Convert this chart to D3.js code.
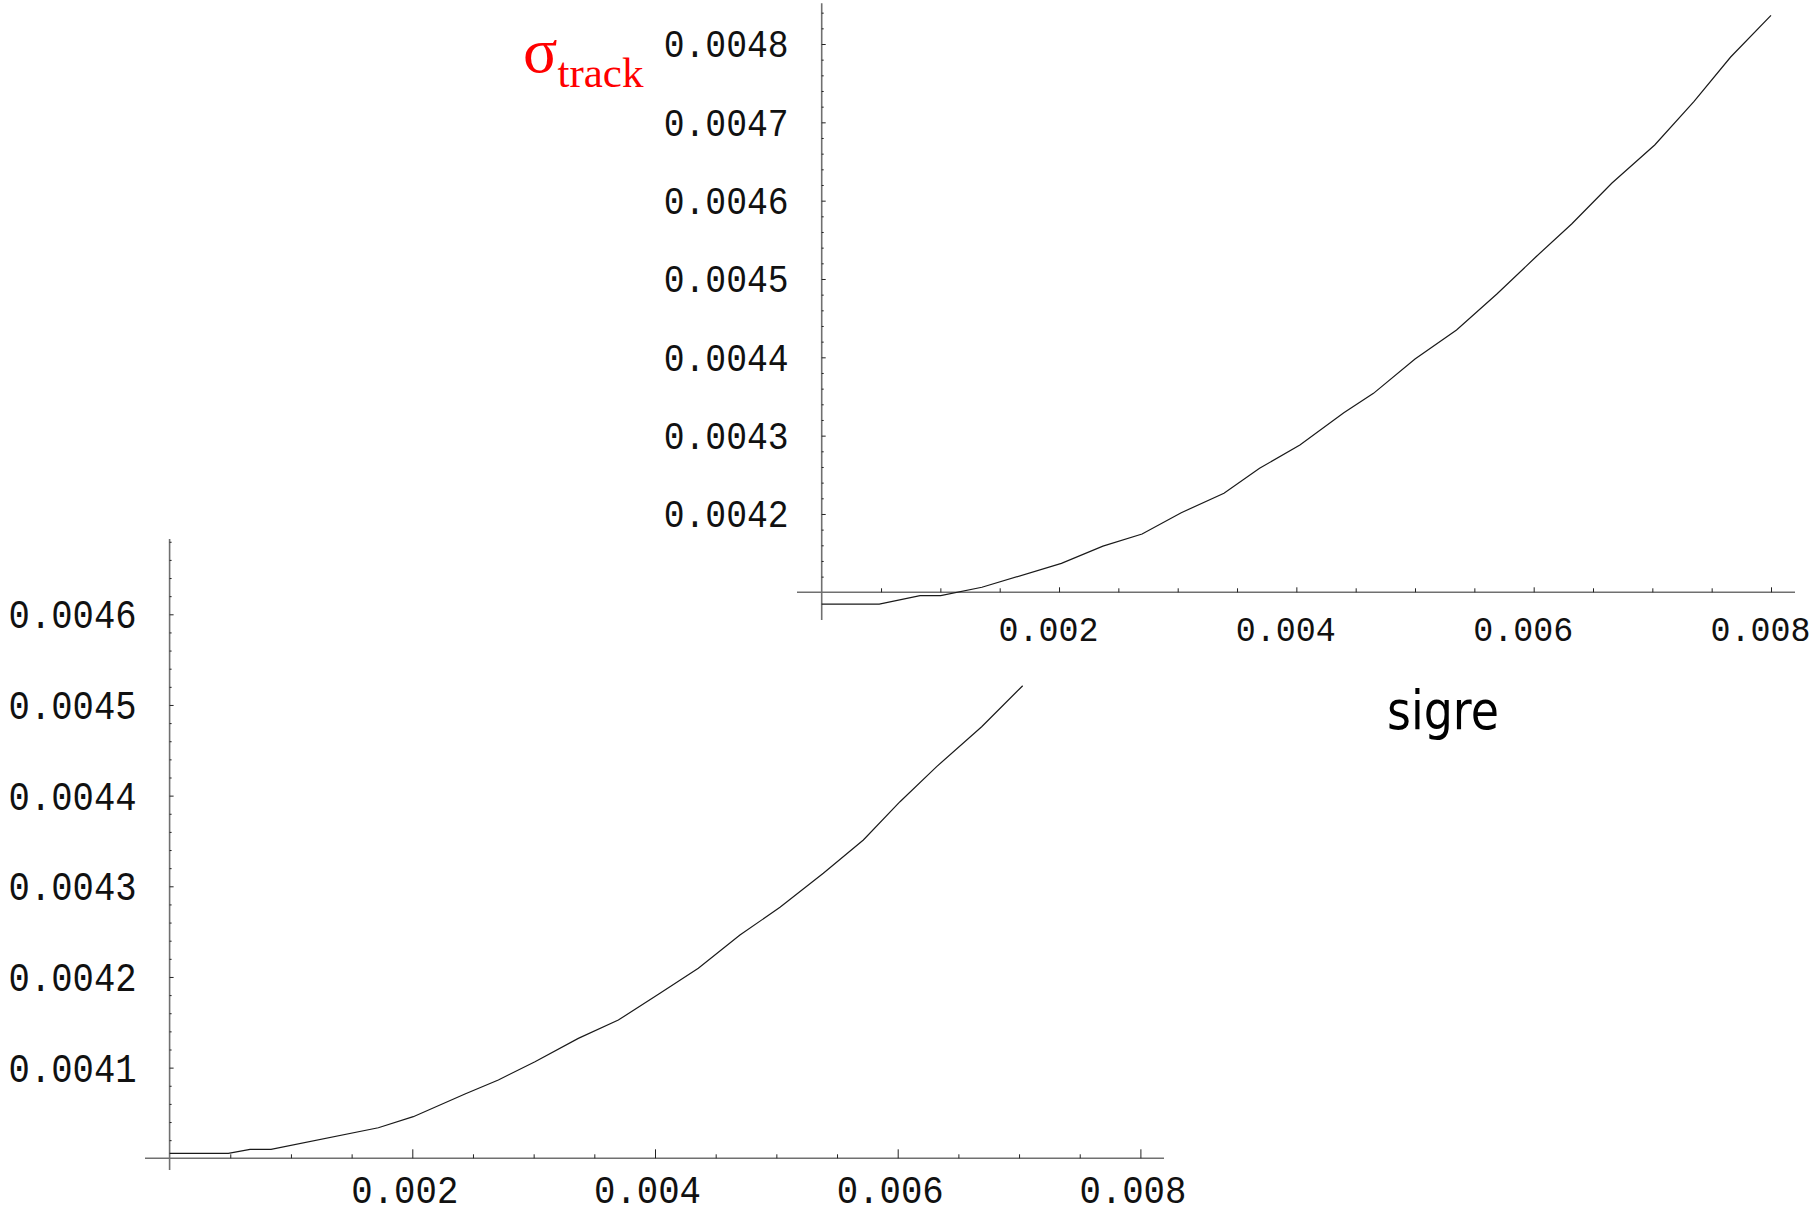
<!DOCTYPE html>
<html>
<head>
<meta charset="utf-8">
<script src="https://cdn.jsdelivr.net/npm/d3@7"></script>
<style>
  html, body { margin: 0; padding: 0; background: #fff; }
  svg { display: block; }
  .tick-label { font-family: "Liberation Mono", "Courier New", monospace; fill: #111; }
</style>
</head>
<body>
<svg id="chart" width="1818" height="1215"></svg>
<script>
// sigma_track as a function of sigre — wide sweep (upper panel)
const sigreUpper = [0, 0.000485, 0.000829, 0.001003, 0.00135, 0.00202, 0.00237, 0.0027, 0.00303,
  0.00339, 0.00369, 0.00403, 0.0044, 0.00465, 0.005, 0.00535, 0.00569, 0.00602, 0.00632,
  0.00666, 0.00702, 0.00735, 0.00766, 0.008];
const sigmaUpper = [0.004085, 0.004085, 0.0040957, 0.0040957, 0.0041064, 0.004137, 0.004159, 0.0041744, 0.0042016,
  0.0042264, 0.0042583, 0.004288, 0.0043293, 0.004354, 0.0043978, 0.0044349, 0.0044808, 0.0045284, 0.0045702,
  0.0046225, 0.0046711, 0.0047263, 0.0047834, 0.0048366];

// sigma_track as a function of sigre — second run (lower panel)
const sigreLower = [0, 0.000484, 0.000663, 0.000836, 0.00172, 0.002008, 0.002434, 0.002709, 0.003011,
  0.003368, 0.003698, 0.004041, 0.004357, 0.0047, 0.00503, 0.005387, 0.005717, 0.006019,
  0.006321, 0.006692, 0.00703];
const sigmaLower = [0.0040055, 0.0040055, 0.0040099, 0.0040099, 0.0040337, 0.0040459, 0.0040709, 0.0040864, 0.0041065,
  0.0041323, 0.0041525, 0.004182, 0.0042096, 0.0042463, 0.0042768, 0.0043143, 0.0043511, 0.0043933,
  0.004432, 0.004476, 0.0045212];

// Axis tick labels
const xTickLabels = [0.002, 0.004, 0.006, 0.008];
const yTickLabelsUpper = [0.0042, 0.0043, 0.0044, 0.0045, 0.0046, 0.0047, 0.0048];
const yTickLabelsLower = [0.0041, 0.0042, 0.0043, 0.0044, 0.0045, 0.0046];

const svg = d3.select("#chart");
svg.append("rect").attr("width", 1818).attr("height", 1215).attr("fill", "#fff");

// Panel geometry (pixels) and axis origins (data units)
const panels = [
  {
    xs: sigreUpper, ys: sigmaUpper, yLabels: yTickLabelsUpper,
    xDomain: [0, 0.008], xRange: [821.7, 1771],
    yDomain: [0.0041, 0.0048], yRange: [592.3, 44],
    originY: 0.0041,
    xLine: [797, 1795], yLine: [620, 3.3],
    xMajorLen: 5, xMinorLen: 4, yMajorLen: 4, yMinorLen: 2,
    yMinorK: [205, 242],
    xLab: { size: 35, len: 100, base: 48.7, dx: -11 },
    yLab: { size: 39, len: 125, x: -33 }
  },
  {
    xs: sigreLower, ys: sigmaLower, yLabels: yTickLabelsLower,
    xDomain: [0, 0.008], xRange: [169.6, 1140.4],
    yDomain: [0.004, 0.0046], yRange: [1158.3, 614.3],
    originY: 0.004,
    xLine: [145, 1164], yLine: [1170, 539],
    xMajorLen: 9, xMinorLen: 4, yMajorLen: 4, yMinorLen: 2,
    yMinorK: [200, 234],
    xLab: { size: 38, len: 107, base: 45, dx: -8 },
    yLab: { size: 41, len: 128, x: -33 }
  }
];

panels.forEach(p => {
  const x = d3.scaleLinear().domain(p.xDomain).range(p.xRange);
  const y = d3.scaleLinear().domain(p.yDomain).range(p.yRange);
  const g = svg.append("g");
  const y0 = y(p.originY);
  const x0 = x(0);

  // axis lines
  g.append("line")
    .attr("x1", p.xLine[0]).attr("x2", p.xLine[1])
    .attr("y1", y0).attr("y2", y0)
    .attr("stroke", "#707070").attr("stroke-width", 1.6);
  g.append("line")
    .attr("x1", x0).attr("x2", x0)
    .attr("y1", p.yLine[0]).attr("y2", p.yLine[1])
    .attr("stroke", "#707070").attr("stroke-width", 1.6);

  // x ticks
  const xMinor = d3.range(1, 17).filter(k => k % 4 !== 0).map(k => k * 0.0005);
  const xMinorAxis = g.append("g").attr("transform", `translate(0,${y0})`)
    .call(d3.axisBottom(x).tickValues(xMinor).tickSize(-p.xMinorLen).tickSizeOuter(0).tickFormat(""));
  const xMajorAxis = g.append("g").attr("transform", `translate(0,${y0})`)
    .call(d3.axisBottom(x).tickValues(xTickLabels).tickSize(-p.xMajorLen).tickSizeOuter(0)
      .tickFormat(d3.format(".3f")));
  xMajorAxis.selectAll("text")
    .attr("class", "tick-label")
    .attr("font-size", p.xLab.size)
    .attr("textLength", p.xLab.len).attr("lengthAdjust", "spacingAndGlyphs")
    .attr("y", p.xLab.base).attr("dy", 0).attr("dx", p.xLab.dx);

  // y ticks
  const yMinor = d3.range(p.yMinorK[0], p.yMinorK[1] + 1).filter(k => k % 5 !== 0).map(k => k * 0.00002);
  const yMinorAxis = g.append("g").attr("transform", `translate(${x0},0)`)
    .call(d3.axisLeft(y).tickValues(yMinor).tickSize(-p.yMinorLen).tickSizeOuter(0).tickFormat(""));
  const yMajorAxis = g.append("g").attr("transform", `translate(${x0},0)`)
    .call(d3.axisLeft(y).tickValues(p.yLabels).tickSize(-p.yMajorLen).tickSizeOuter(0)
      .tickFormat(d3.format(".4f")));
  yMajorAxis.selectAll("text")
    .attr("class", "tick-label")
    .attr("font-size", p.yLab.size)
    .attr("textLength", p.yLab.len).attr("lengthAdjust", "spacingAndGlyphs")
    .attr("x", p.yLab.x).attr("dy", "0.33em");

  [xMinorAxis, xMajorAxis, yMinorAxis, yMajorAxis].forEach(a => {
    a.select(".domain").remove();
    a.selectAll(".tick line").attr("stroke", "#222").attr("stroke-width", 1);
    a.attr("font-family", null).attr("font-size", null);
  });

  // curve
  const pts = p.xs.map((v, i) => [v, p.ys[i]]);
  g.append("path")
    .datum(pts)
    .attr("fill", "none")
    .attr("stroke", "#1a1a1a")
    .attr("stroke-width", 1.2)
    .attr("d", d3.line().x(d => x(d[0])).y(d => y(d[1])));
});

// y-axis title: sigma with subscript "track"
const yTitle = svg.append("text")
  .attr("x", 523).attr("y", 72)
  .attr("fill", "#ff0000")
  .attr("font-family", "'Liberation Serif', 'Times New Roman', serif");
yTitle.append("tspan").attr("font-size", 64).text("σ");
yTitle.append("tspan").attr("font-size", 43).attr("dy", 15).text("track");

// x-axis title
svg.append("text")
  .attr("x", 1387).attr("y", 729)
  .attr("font-family", "'DejaVu Sans', Verdana, sans-serif")
  .attr("font-size", 54)
  .attr("textLength", 112).attr("lengthAdjust", "spacingAndGlyphs")
  .attr("fill", "#000")
  .text("sigre");
</script>
</body>
</html>
